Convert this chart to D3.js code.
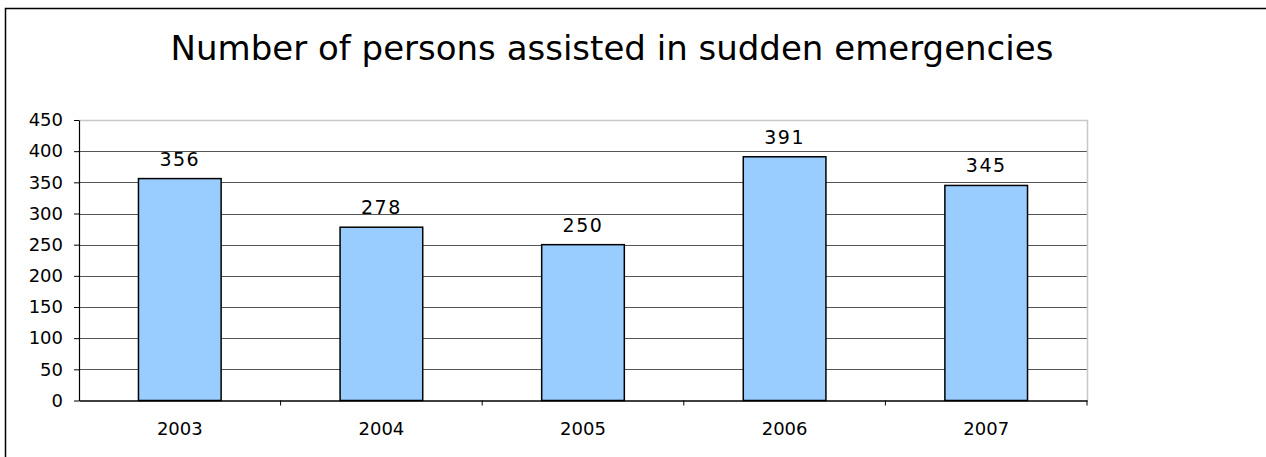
<!DOCTYPE html>
<html><head><meta charset="utf-8">
<script src="https://cdn.jsdelivr.net/npm/d3@7"></script>
<style>body{margin:0;background:#fff}svg{display:block}text{font-family:"DejaVu Sans",Verdana,sans-serif;fill:#000}</style>
</head><body>
<svg id="c" width="1266" height="457"></svg>
<script>
const categories = ["2003","2004","2005","2006","2007"];
const values = [356, 278, 250, 391, 345];
const yTicks = [0,50,100,150,200,250,300,350,400,450];
const title = "Number of persons assisted in sudden emergencies";

const svg = d3.select("#c");
svg.append("rect").attr("x",5.5).attr("y",8.5).attr("width",1300).attr("height",500)
  .attr("fill","#fff").attr("stroke","#000").attr("stroke-width",1.5);

const L=79, R=1087, T=120, B=400.5;
const x = d3.scaleBand().domain(categories).range([L,R]).paddingInner(0.59).paddingOuter(0.295);
const xb = d3.scaleBand().domain(categories).range([L,R]);
const y = d3.scaleLinear().domain([0,450]).range([B,T]);

svg.append("text").attr("x",612).attr("y",60).attr("text-anchor","middle")
  .style("font-size","34px").text(title);

// gridlines
svg.append("g").selectAll("line").data(yTicks.filter(d=>d>0 && d<450)).join("line")
  .attr("x1",L).attr("x2",R).attr("y1",d=>Math.round(y(d))+0.5).attr("y2",d=>Math.round(y(d))+0.5)
  .attr("stroke","#555").attr("stroke-width",1);
// plot border top/right
svg.append("path").attr("d",`M${L},${Math.round(T)+0.5}H${R+0.5}V${B}`).attr("fill","none")
  .attr("stroke","#c8c8c8").attr("stroke-width",1.5);

// bars
svg.append("g").selectAll("rect").data(values).join("rect")
  .attr("x",(d,i)=>x(categories[i])).attr("width",x.bandwidth())
  .attr("y",d=>y(d)).attr("height",d=>B-y(d))
  .attr("fill","#99ccff").attr("stroke","#000").attr("stroke-width",1.5);

// labels
svg.append("g").selectAll("text").data(values).join("text")
  .attr("x",(d,i)=>x(categories[i])+x.bandwidth()/2).attr("y",d=>y(d)-13)
  .attr("text-anchor","middle").style("font-size","19px").style("letter-spacing","1.5px").text(d=>d);

// y axis
const ya = svg.append("g").attr("transform",`translate(${L},0)`)
  .call(d3.axisLeft(y).tickValues(yTicks).tickSize(5).tickPadding(11).tickSizeOuter(0));
ya.select(".domain").attr("stroke","#000").attr("stroke-width",1.2);
ya.selectAll(".tick line").attr("stroke","#000");
ya.selectAll(".tick text").style("font-size","18px").style("font-family","DejaVu Sans").attr("fill","#000");

// x axis
const xa = svg.append("g").attr("transform",`translate(0,${B})`)
  .call(d3.axisBottom(xb).tickSize(0).tickPadding(22).tickSizeOuter(0));
xa.select(".domain").attr("stroke","#000").attr("stroke-width",1.5);
xa.selectAll(".tick text").style("font-size","18px").style("font-family","DejaVu Sans").attr("fill","#000");
svg.append("g").selectAll("line").data(categories).join("line")
  .attr("x1",d=>xb(d)+xb.bandwidth()).attr("x2",d=>xb(d)+xb.bandwidth())
  .attr("y1",B).attr("y2",B+5).attr("stroke","#000");
</script>
</body></html>
